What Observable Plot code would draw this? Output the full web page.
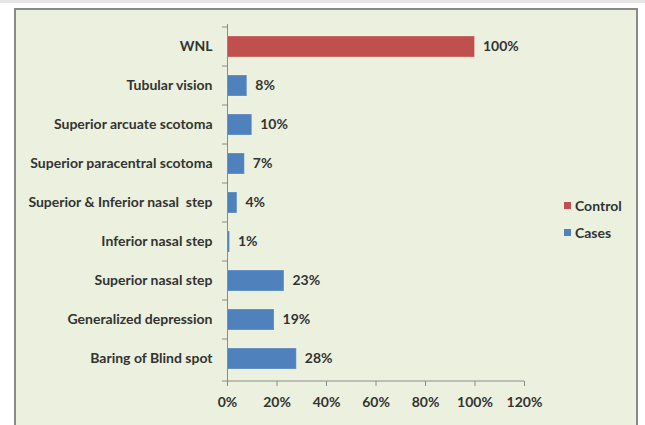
<!DOCTYPE html>
<html>
<head>
<meta charset="utf-8">
<script src="https://cdn.jsdelivr.net/npm/d3@7"></script>
<script src="https://cdn.jsdelivr.net/npm/@observablehq/plot@0.6"></script>
<style>
  html, body { margin: 0; padding: 0; background: #ffffff; }
  #page { position: relative; width: 645px; height: 425px; overflow: hidden; background: #ffffff; }
  #strip { position: absolute; left: 0; top: 0; width: 645px; height: 3px; background: #e6e6e6; }
  #panel { position: absolute; left: 14px; top: 8px; width: 620px; height: 430px; background: #ebf1de;
           border-left: 2px solid #8a8a8a; border-top: 2px solid #8a8a8a; border-right: 2px solid #8a8a8a; }
  #chart { position: absolute; left: 0; top: 0; }
  #legend { position: absolute; left: 564px; top: 197px; font-family: Lato, "Open Sans", sans-serif;
            font-weight: bold; font-size: 14px; color: #333; }
  .item { display: flex; align-items: center; height: 16px; margin-bottom: 11px; }
  .sw { width: 7px; height: 7px; margin-right: 4px; }
</style>
</head>
<body>
<div id="page">
  <div id="strip"></div>
  <div id="panel"></div>
  <div id="chart"></div>
  <div id="legend"></div>
</div>
<script>
const categories = [
  "WNL",
  "Tubular vision",
  "Superior arcuate scotoma",
  "Superior paracentral scotoma",
  "Superior & Inferior nasal  step",
  "Inferior nasal step",
  "Superior nasal step",
  "Generalized depression",
  "Baring of Blind spot"
];
const values = [100, 8, 10, 7, 4, 1, 23, 19, 28];
const groups = ["Control", "Cases", "Cases", "Cases", "Cases", "Cases", "Cases", "Cases", "Cases"];
const seriesNames = ["Control", "Cases"];
const seriesColors = ["#c0504d", "#4f81bd"];
const xTicks = [0, 20, 40, 60, 80, 100, 120];

const data = categories.map((c, i) => ({category: c, value: values[i], group: groups[i]}));

const font = "Lato, 'Open Sans', sans-serif";

// boundary ticks on the band axis and bottom axis line
const frameLines = (index, scales, values, dims) => {
  const g = d3.create("svg:g");
  const y = scales.y;
  const bw = y.bandwidth();
  const step = y.step();
  const x0 = dims.marginLeft;
  const x1 = dims.width - dims.marginRight;
  const yb = dims.height - dims.marginBottom;
  const cats = y.domain();
  const bounds = cats.map(c => y(c) - (step - bw) / 2);
  bounds.push(yb);
  for (const b of bounds) {
    g.append("line").attr("x1", x0 - 5).attr("x2", x0).attr("y1", b).attr("y2", b)
      .attr("stroke", "#8a8a8a").attr("stroke-width", 1);
  }
  g.append("line").attr("x1", x0).attr("x2", x1).attr("y1", yb).attr("y2", yb)
    .attr("stroke", "#8a8a8a").attr("stroke-width", 1);
  return g.node();
};

const chart = Plot.plot({
  width: 645,
  height: 425,
  marginLeft: 227,
  marginRight: 121,
  marginTop: 24,
  marginBottom: 44,
  style: {background: "transparent", fontFamily: font, fontWeight: "bold", fontSize: "14px", color: "#333"},
  x: {domain: [0, 120], ticks: xTicks, tickFormat: d => d + "%", label: null},
  y: {domain: categories, paddingInner: 0.47, paddingOuter: 0.235, label: null},
  color: {domain: seriesNames, range: seriesColors},
  marks: [
    Plot.barX(data, {x: "value", y: "category", fill: "group", stroke: "#ffffff", strokeOpacity: 0.25, strokeWidth: 1}),
    Plot.text(data, {x: "value", y: "category", text: d => d.value + "%", textAnchor: "start", dx: 8,
      fill: "#333", fontSize: 14, fontWeight: "bold"}),
    Plot.ruleX([0], {stroke: "#8a8a8a", strokeWidth: 1}),
    frameLines,
    Plot.axisY({tickSize: 0, tickPadding: 15, fontSize: 14, fontWeight: "bold", label: null}),
    Plot.axisX({ticks: xTicks, tickFormat: d => d + "%", tickSize: 5, tickPadding: 11, stroke: "#8a8a8a",
      fontSize: 14, fontWeight: "bold", label: null})
  ]
});
document.getElementById("chart").appendChild(chart);

const legend = document.getElementById("legend");
seriesNames.forEach((s, i) => {
  const item = document.createElement("div");
  item.className = "item";
  const sw = document.createElement("span");
  sw.className = "sw";
  sw.style.background = seriesColors[i];
  const t = document.createElement("span");
  t.textContent = s;
  item.appendChild(sw);
  item.appendChild(t);
  legend.appendChild(item);
});
</script>
</body>
</html>
